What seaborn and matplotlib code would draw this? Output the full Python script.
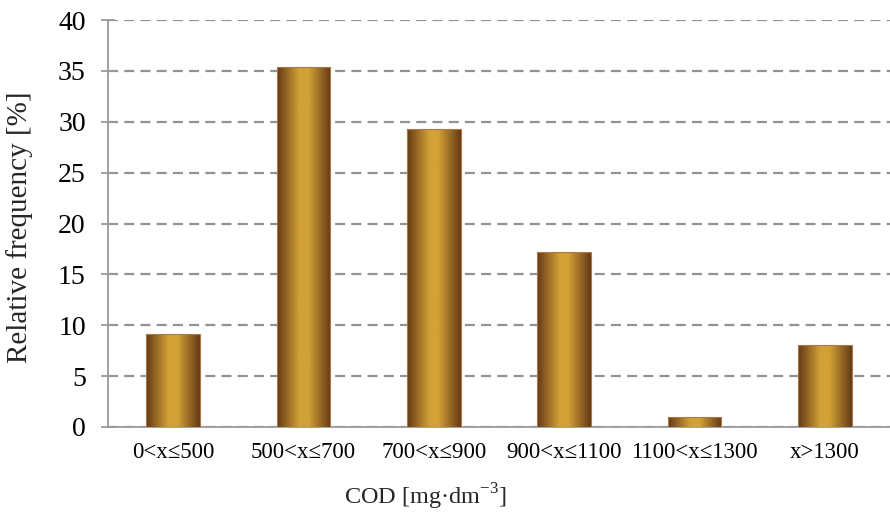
#!/usr/bin/env python3
import numpy as np
import pandas as pd
import seaborn as sns
import matplotlib.pyplot as plt
from matplotlib.colors import LinearSegmentedColormap

categories = ["0<x≤500", "500<x≤700", "700<x≤900", "900<x≤1100", "1100<x≤1300", "x>1300"]
frequency = [9.1, 35.4, 29.3, 17.2, 1.0, 8.1]

df = pd.DataFrame({"COD": categories, "Frequency": frequency})

sns.set_theme(style="white")
plt.rcParams["font.family"] = ["Liberation Serif", "DejaVu Serif"]
plt.rcParams["mathtext.fontset"] = "custom"
plt.rcParams["mathtext.rm"] = "Liberation Serif"

fig = plt.figure(figsize=(8.9, 5.13), dpi=100)
ax = fig.add_axes([108 / 890, 1 - 427 / 513, 782 / 890, 407 / 513])

sns.barplot(data=df, x="COD", y="Frequency", ax=ax, color="#c8922c", width=0.41,
            edgecolor="#a87a4a", linewidth=0.8, zorder=3)

# gradient fill: dark brown at the sides, gold in the middle
grad_cmap = LinearSegmentedColormap.from_list(
    "bronze", [(0.0, "#653916"), (0.42, "#d3a236"), (0.58, "#d3a236"), (1.0, "#653916")])
grad = np.linspace(0, 1, 256).reshape(1, -1)
for patch in ax.patches:
    x0, y0 = patch.get_x(), patch.get_y()
    w, h = patch.get_width(), patch.get_height()
    img = ax.imshow(grad, cmap=grad_cmap, aspect="auto", extent=[x0, x0 + w, y0, y0 + h],
                    interpolation="bicubic", zorder=3.5)
    img.set_clip_path(patch)
    patch.set_facecolor("none")
    patch.set_zorder(4)

ax.set_xlim(-0.5, len(categories) - 0.5)
ax.set_ylim(0, 40)
ax.set_yticks(range(0, 41, 5))

ax.yaxis.grid(True, linestyle=(0, (4.5, 2.8)), color="#929292", linewidth=1.6, zorder=0)
ax.set_axisbelow(True)

for side in ["top", "right"]:
    ax.spines[side].set_visible(False)
for side in ["left", "bottom"]:
    ax.spines[side].set_color("#9a9a9a")
    ax.spines[side].set_linewidth(1.3)

# x ticks sit between the categories
ax.set_xticks(np.arange(len(categories)))
ax.set_xticklabels(categories, fontsize=16.5)
ax.set_xticks(np.arange(len(categories) + 1) - 0.5, minor=True)
ax.tick_params(axis="x", which="major", length=0, pad=11)
ax.tick_params(axis="x", which="minor", direction="out", length=6, width=1.3, color="#9a9a9a")
ax.tick_params(axis="y", direction="inout", length=10, width=1.3, color="#9a9a9a",
               labelsize=20, pad=11, left=True)

ax.set_xlabel("COD [mg·dm$^{-3}$]", fontsize=17.5)
ax.xaxis.set_label_coords((425 - 108) / 782, (427 - 482) / 407)
ax.set_ylabel("Relative frequency [%]", fontsize=21)
ax.yaxis.set_label_coords((33 - 108) / 782, 0.49)

for lbl in ax.get_xticklabels() + ax.get_yticklabels():
    lbl.set_color("black")

fig.savefig("out.png", dpi=100)
